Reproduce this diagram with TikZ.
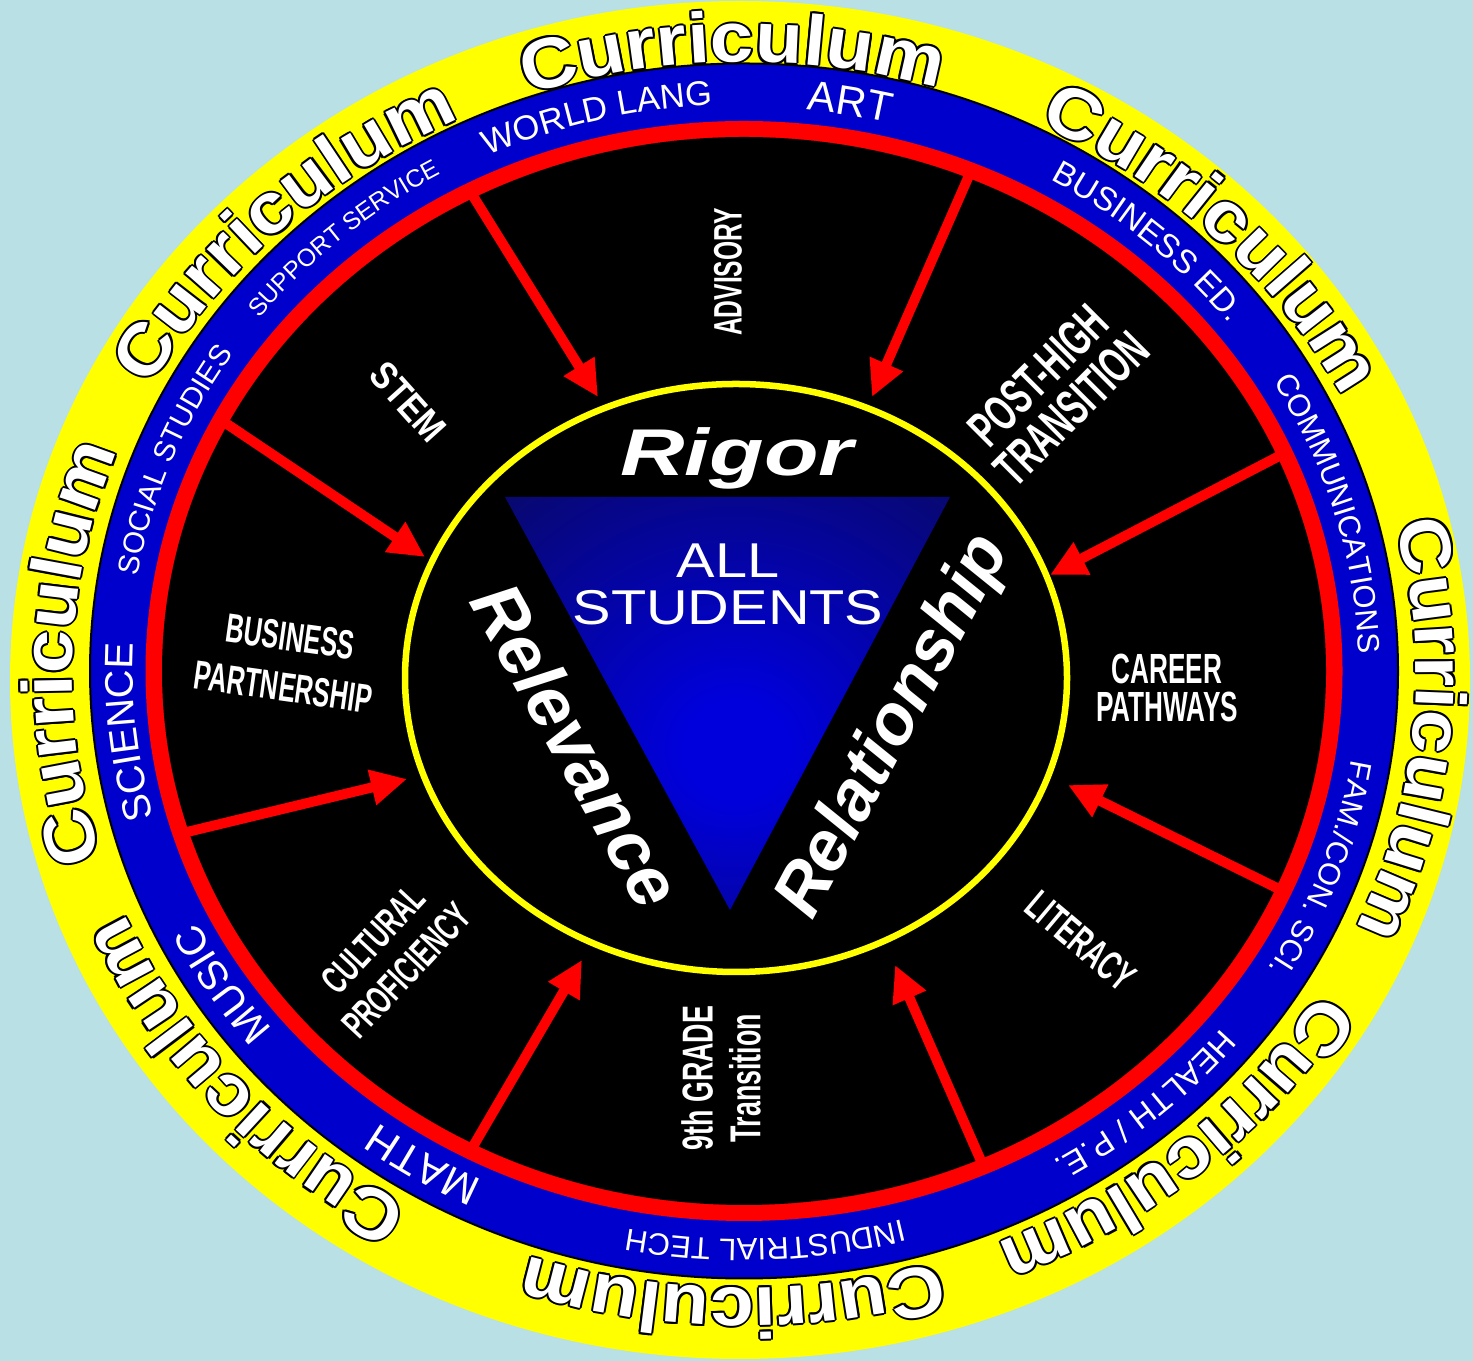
\documentclass[tikz,border=0pt]{standalone}
\usepackage{fontspec}
\setmainfont{Liberation Sans}
\newfontfamily\wideff[FakeStretch=1.1]{Liberation Sans}
\newfontfamily\rigorff[FakeStretch=1.35]{Liberation Sans}
\newfontfamily\narrowff[FakeStretch=0.62]{Liberation Sans}
\newfontfamily\midff[FakeStretch=0.85]{Liberation Sans}
\newfontfamily\stuff[FakeStretch=1.18]{Liberation Sans}
\usetikzlibrary{decorations.text,arrows.meta}
\definecolor{bgc}{RGB}{185,224,228}
\definecolor{ringblue}{RGB}{0,0,204}
\definecolor{ringyellow}{RGB}{255,255,0}
\definecolor{triin}{RGB}{0,0,220}
\definecolor{trimid}{RGB}{8,8,112}
\definecolor{triout}{RGB}{4,4,72}
\pgfdeclareradialshading{trishade}{\pgfpoint{1bp}{-6bp}}{color(0bp)=(triin); color(6bp)=(triin); color(38bp)=(trimid); color(60bp)=(triout); color(90bp)=(triout)}
\tikzset{
  currtxt/.style={decorate, decoration={text along path, text align=center, text color=#1,
     text={|\wideff\bfseries\fontsize{20.2}{24}\selectfont|Curriculum}}},
  lbl/.style={text=white, align=center, inner sep=0pt},
  arr/.style={red, line width=0.1cm, -{Triangle[length=0.36cm, width=0.34cm]}}
}
\newcommand\currword[1]{%
  \pgfmathsetmacro\cA{#1+32}\pgfmathsetmacro\cB{#1-32}%
  \foreach \ox/\oy in {2/0,-2/0,0/2,0/-2,1.4/1.4,-1.4/1.4,1.4/-1.4,-1.4/-1.4}{%
    \path[currtxt=black, shift={(\ox,\oy)}] (744,686) ++(\cA:672 and 613)
      arc[start angle=\cA, end angle=\cB, x radius=672, y radius=613];}%
  \path[currtxt=white] (744,686) ++(\cA:672 and 613)
      arc[start angle=\cA, end angle=\cB, x radius=672, y radius=613];}
\newcommand\ringtext[5]{%
  \pgfmathsetmacro\rA{#1+28}\pgfmathsetmacro\rB{#1-28}%
  \path[decorate, decoration={text along path, text align=center, text color=white,
     text={|\fontsize{#4}{#4}\selectfont|#5}}] (744,690) ++(\rA:#2 and #3)
     arc[start angle=\rA, end angle=\rB, x radius=#2, y radius=#3];}
\begin{document}
\begin{tikzpicture}[x=0.01cm, y=0.01cm]
\useasboundingbox (0,0) rectangle (1473,1361);
\fill[bgc] (0,0) rectangle (1473,1361);
% outer yellow ring
\fill[ringyellow] (740,681) ellipse [x radius=730, y radius=679];
\foreach \t in {91,45,-5,-49,-91,-139,178,134}{\currword{\t}}
% blue ring
\filldraw[fill=ringblue, draw=black, line width=0.02cm] (744,690) ellipse [x radius=654, y radius=607.5];
\ringtext{80}{611}{564}{11.9}{ART}
\ringtext{104}{614}{567}{9.8}{WORLD LANG}
\ringtext{131}{617}{570}{7.0}{SUPPORT SERVICE}
\ringtext{158.5}{615}{568}{8.4}{SOCIAL STUDIES}
\ringtext{186}{611}{564}{11.3}{SCIENCE}
\ringtext{212.5}{611}{564}{11.6}{MUSIC}
\ringtext{238.5}{611}{564}{12.0}{MATH}
\ringtext{272}{615}{568}{8.8}{INDUSTRIAL TECH}
\ringtext{311}{614}{567}{9.2}{HEALTH / P.E.}
\ringtext{340}{615}{568}{8.7}{FAM./CON. SCI.}
\ringtext{16}{615}{568}{8.8}{COMMUNICATIONS}
\ringtext{48.5}{614}{567}{9.4}{BUSINESS ED.}
% red ring and black field
\fill[red] (744,690) ellipse [x radius=598.5, y radius=550];
\fill[black] (744,690) ellipse [x radius=582, y radius=534];
% arrows
\coordinate (s1) at (468,1173); \coordinate (e1) at (598,964);
\coordinate (s2) at (971,1190); \coordinate (e2) at (872,964);
\coordinate (s3) at (218,943);  \coordinate (e3) at (425,804);
\coordinate (s4) at (1285,908); \coordinate (e4) at (1050,786);
\coordinate (s5) at (183,528);  \coordinate (e5) at (407,582);
\coordinate (s6) at (1285,469); \coordinate (e6) at (1068,576);
\coordinate (s7) at (468,206);  \coordinate (e7) at (582,401);
\coordinate (s8) at (985,191);  \coordinate (e8) at (895,396);
\foreach \i in {1,...,8}{\draw[arr] (s\i) -- (e\i);}
% inner circle
\draw[ringyellow, line width=0.065cm] (736,683) ellipse [x radius=331, y radius=294];
\shade[shading=trishade] (505,864) -- (950,864) -- (730,451) -- cycle;
% centre texts
\node[lbl, font=\rigorff\bfseries\itshape\fontsize{18.8}{20}\selectfont] (rigor) at (737,903) {Rigor};
\node[lbl, font=\stuff\fontsize{13.9}{13.4}\selectfont] (all) at (728,777) {ALL\\STUDENTS};
\node[lbl, rotate=-61, font=\bfseries\itshape\fontsize{20.5}{22}\selectfont] (relev) at (577,616) {Relevance};
\node[lbl, rotate=62, font=\bfseries\itshape\fontsize{20}{22}\selectfont] (relat) at (895,634) {Relationship};
% segment labels
\node[lbl, rotate=90, font=\narrowff\bfseries\fontsize{11.3}{12}\selectfont] (adv) at (728,1089) {ADVISORY};
\node[lbl, rotate=45, font=\narrowff\bfseries\fontsize{14.5}{13.5}\selectfont] (post) at (1055,969) {POST-HIGH\\TRANSITION};
\node[lbl, font=\narrowff\bfseries\fontsize{12}{10.8}\selectfont] (career) at (1167,673) {CAREER\\PATHWAYS};
\node[lbl, rotate=-40, font=\narrowff\bfseries\fontsize{11.8}{12}\selectfont] (lit) at (1081,420) {LITERACY};
\node[lbl, rotate=90, font=\narrowff\bfseries\fontsize{12.3}{13.6}\selectfont] (ninth) at (721,283) {9th GRADE\\Transition};
\node[lbl, rotate=47, font=\narrowff\bfseries\fontsize{11.2}{13}\selectfont] (cult) at (390,406) {CULTURAL\\PROFICIENCY};
\node[lbl, rotate=-8, font=\narrowff\bfseries\fontsize{11.6}{14.5}\selectfont] (bus) at (287,699) {BUSINESS\\PARTNERSHIP};
\node[lbl, rotate=-48, font=\midff\bfseries\fontsize{11}{12}\selectfont] (stem) at (408,959) {STEM};
\end{tikzpicture}
\end{document}
